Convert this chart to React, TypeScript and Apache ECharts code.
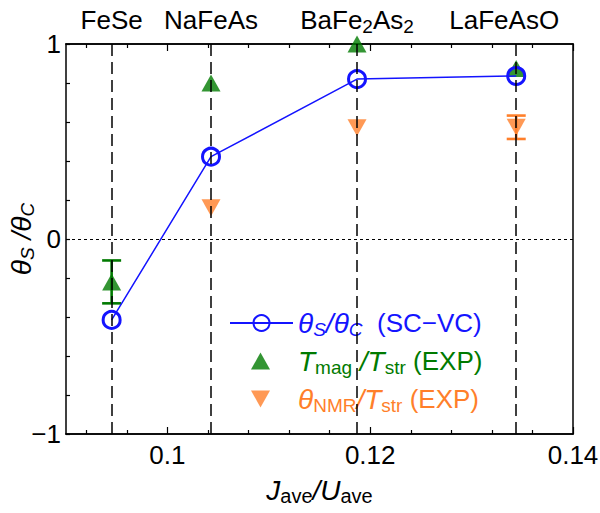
import React, { useEffect, useRef } from 'react';
import * as echarts from 'echarts';

// ---------- data ----------
const materials = ['FeSe', 'NaFeAs', 'BaFe2As2', 'LaFeAsO'];
const materialLabels = ['{n|FeSe}', '{n|NaFeAs}', '{n|BaFe}{s|2}{n|As}{s|2}', '{n|LaFeAsO}'];
const jOverU = [0.0945, 0.1043, 0.1187, 0.1344];
const thetaRatioSC = [-0.415, 0.422, 0.82, 0.836];
const tmagOverTstr = [-0.22, 0.8, 1.0, 0.875];
const tmagErr = [0.11, 0, 0, 0];
const thetaNmrOverTstr: (number | null)[] = [null, 0.16, 0.57, 0.573];
const thetaNmrErr = [0, 0, 0, 0.06];
const xMajorTicks = [0.1, 0.12, 0.14];
const xMajorLabels = ['0.1', '0.12', '0.14'];
const xMinorTicks = [0.092, 0.096, 0.104, 0.108, 0.112, 0.116, 0.124, 0.128, 0.132, 0.136];
const yLabelValues = [-1, 0, 1];
const yLabels = ['\u22121', '0', '1'];

const FONT = '"Liberation Sans", Arial, sans-serif';
const BLUE = '#1414ff';
const GREEN = '#007a00';
const ORANGE = '#ff7f2a';

const legendText: Record<string, string> = {
  sc: '{i|θ}{is|S}{i|/θ}{is|C}{n|  (SC\u2212VC)}',
  tmag: '{i|T}{s|mag}{i| /T}{s|str}{n| (EXP)}',
  nmr: '{i|θ}{s|NMR}{i|/T}{s|str}{n| (EXP)}',
};

const mainTok = { fontSize: 26, fontFamily: FONT, lineHeight: 32, verticalAlign: 'middle' };
const subTok = { fontSize: 19, fontFamily: FONT, lineHeight: 14, verticalAlign: 'bottom' };
const richStyles = {
  n: { ...mainTok },
  i: { ...mainTok, fontSize: 28, fontStyle: 'italic' },
  s: { ...subTok },
  is: { ...subTok, fontStyle: 'italic' },
};
const richAxisName = {
  ...richStyles,
  s: { ...subTok, fontSize: 20 },
};

function errorBarSeries(name: string, vals: (number | null)[], errs: number[], color: string) {
  const data = jOverU
    .map((x, i) => (vals[i] != null && errs[i] > 0 ? [x, (vals[i] as number) - errs[i], (vals[i] as number) + errs[i]] : null))
    .filter((d) => d !== null);
  return {
    type: 'custom',
    name,
    z: 2,
    clip: false,
    encode: { x: 0, y: [1, 2] },
    data,
    renderItem: (params: any, api: any) => {
      const x = api.value(0);
      const lo = api.value(1);
      const hi = api.value(2);
      const top = api.coord([x, hi]);
      const bot = api.coord([x, lo]);
      const hw = 9.5;
      const style = { stroke: color, lineWidth: 2.6 };
      return {
        type: 'group',
        children: [
          { type: 'line', shape: { x1: top[0], y1: top[1], x2: bot[0], y2: bot[1] }, style },
          { type: 'line', shape: { x1: top[0] - hw, y1: top[1], x2: top[0] + hw, y2: top[1] }, style },
          { type: 'line', shape: { x1: bot[0] - hw, y1: bot[1], x2: bot[0] + hw, y2: bot[1] }, style },
        ],
      };
    },
  };
}

export default function App() {
  const ref = useRef<HTMLDivElement>(null);
  useEffect(() => {
    if (!ref.current) return;
    const chart = echarts.init(ref.current, undefined, { renderer: 'svg' });
    const axisLine = { show: true, onZero: false, lineStyle: { color: '#000', width: 1.5 } };
    const tickLine = { color: '#000', width: 1.2 };
    const baseX = { type: 'value', min: 0.09, max: 0.14, splitLine: { show: false }, axisLine };
    const legendCommon = {
      orient: 'horizontal',
      textStyle: { fontSize: 26, fontFamily: FONT, rich: richStyles },
      formatter: (name: string) => legendText[name],
      selectedMode: false,
    };
    const option: any = {
      animation: false,
      grid: { left: 66, right: 27, top: 44, bottom: 79, outerBoundsMode: 'none', containLabel: false },
      xAxis: [
        {
          ...baseX,
          position: 'bottom',
          axisTick: { show: true, inside: true, length: 7, customValues: xMajorTicks, lineStyle: tickLine },
          axisLabel: {
            show: true,
            customValues: xMajorTicks,
            formatter: (v: number) => xMajorLabels[xMajorTicks.findIndex((t) => Math.abs(t - v) < 1e-9)],
            fontSize: 26,
            fontFamily: FONT,
            color: '#000',
            margin: 8,
          },
          name: '{i|J}{s|ave}{i|/U}{s|ave}',
          nameLocation: 'middle',
          nameGap: 40,
          nameTextStyle: { color: '#000', fontSize: 26, fontFamily: FONT, rich: richAxisName },
        },
        {
          ...baseX,
          position: 'bottom',
          axisTick: { show: true, inside: true, length: 4, customValues: xMinorTicks, lineStyle: tickLine },
          axisLabel: { show: false },
        },
        {
          ...baseX,
          position: 'top',
          axisTick: { show: true, inside: true, length: 7, customValues: xMajorTicks, lineStyle: tickLine },
          axisLabel: { show: false },
        },
        {
          ...baseX,
          position: 'top',
          axisTick: { show: true, inside: true, length: 4, customValues: xMinorTicks, lineStyle: tickLine },
          axisLabel: { show: false },
        },
      ],
      yAxis: [
        {
          type: 'value',
          min: -1,
          max: 1,
          interval: 0.2,
          position: 'left',
          splitLine: { show: false },
          axisLine,
          axisTick: { show: true, inside: true, length: 4, lineStyle: tickLine },
          axisLabel: {
            customValues: yLabelValues,
            formatter: (v: number) => yLabels[yLabelValues.findIndex((t) => Math.abs(t - v) < 1e-9)],
            fontSize: 26,
            fontFamily: FONT,
            color: '#000',
            margin: 5,
          },
          name: '{i|θ}{is|S}{i| /θ}{is|C}',
          nameLocation: 'middle',
          nameGap: 29,
          nameMoveOverlap: false,
          nameTextStyle: { color: '#000', fontSize: 26, fontFamily: FONT, rich: richAxisName },
        },
        {
          type: 'value',
          min: -1,
          max: 1,
          position: 'right',
          splitLine: { show: false },
          axisLine,
          axisTick: { show: false },
          axisLabel: { show: false },
        },
      ],
      legend: [
        {
          ...legendCommon,
          left: 224,
          top: 304,
          itemWidth: 63,
          itemHeight: 20,
          data: [{ name: 'sc', textStyle: { color: BLUE } }],
        },
        {
          ...legendCommon,
          left: 246,
          top: 342,
          itemWidth: 19,
          itemHeight: 17,
          textStyle: { ...legendCommon.textStyle, padding: [0, 0, 0, 23] },
          data: [{ name: 'tmag', icon: 'path://M9.5,0 L19,17 L0,17 Z', textStyle: { color: GREEN } }],
        },
        {
          ...legendCommon,
          left: 246,
          top: 380,
          itemWidth: 19,
          itemHeight: 17,
          textStyle: { ...legendCommon.textStyle, padding: [0, 0, 0, 23] },
          data: [{ name: 'nmr', icon: 'path://M0,0 L19,0 L9.5,17 Z', textStyle: { color: ORANGE } }],
        },
      ],
      series: [
        errorBarSeries('tmagErr', tmagOverTstr, tmagErr, GREEN),
        errorBarSeries('nmrErr', thetaNmrOverTstr, thetaNmrErr, ORANGE),
        {
          type: 'scatter',
          name: 'tmag',
          z: 3,
          clip: false,
          symbol: 'triangle',
          symbolSize: [19, 17],
          itemStyle: { color: GREEN },
          data: jOverU.map((x, i) => [x, tmagOverTstr[i]]),
        },
        {
          type: 'scatter',
          name: 'nmr',
          z: 3,
          clip: false,
          symbol: 'triangle',
          symbolRotate: 180,
          symbolSize: [19, 17],
          itemStyle: { color: ORANGE },
          data: jOverU.map((x, i) => [x, thetaNmrOverTstr[i]]).filter((d) => d[1] !== null),
        },
        {
          type: 'line',
          name: 'sc',
          z: 4,
          symbol: 'circle',
          symbolSize: 17,
          showAllSymbol: true,
          lineStyle: { color: BLUE, width: 1.5 },
          itemStyle: { color: 'rgba(255,255,255,0)', borderColor: BLUE, borderWidth: 3 },
          data: jOverU.map((x, i) => [x, thetaRatioSC[i]]),
        },
        {
          type: 'line',
          name: 'guides',
          z: 10,
          data: [],
          markLine: {
            silent: true,
            precision: 6,
            symbol: ['none', 'none'],
            animation: false,
            lineStyle: { color: '#000', width: 1.5, type: [12, 6] },
            label: {
              show: true,
              position: 'end',
              distance: 8,
              color: '#000',
              fontSize: 26,
              fontFamily: FONT,
              rich: richStyles,
            },
            data: [
              ...jOverU.map((x, i) => ({
                xAxis: x,
                name: materials[i],
                label: {
                  formatter: () => materialLabels[i],
                  padding: i === 3 ? [0, 24, 0, 0] : 0,
                },
              })),
              { yAxis: 0, label: { show: false }, lineStyle: { type: [3, 3], width: 1 } },
            ],
          },
        },
      ],
    };
    chart.setOption(option);
    return () => chart.dispose();
  }, []);
  return (
    <div
      ref={ref}
      style={{ position: 'fixed', left: 0, top: 0, width: 600, height: 513, background: '#fff' }}
    />
  );
}
